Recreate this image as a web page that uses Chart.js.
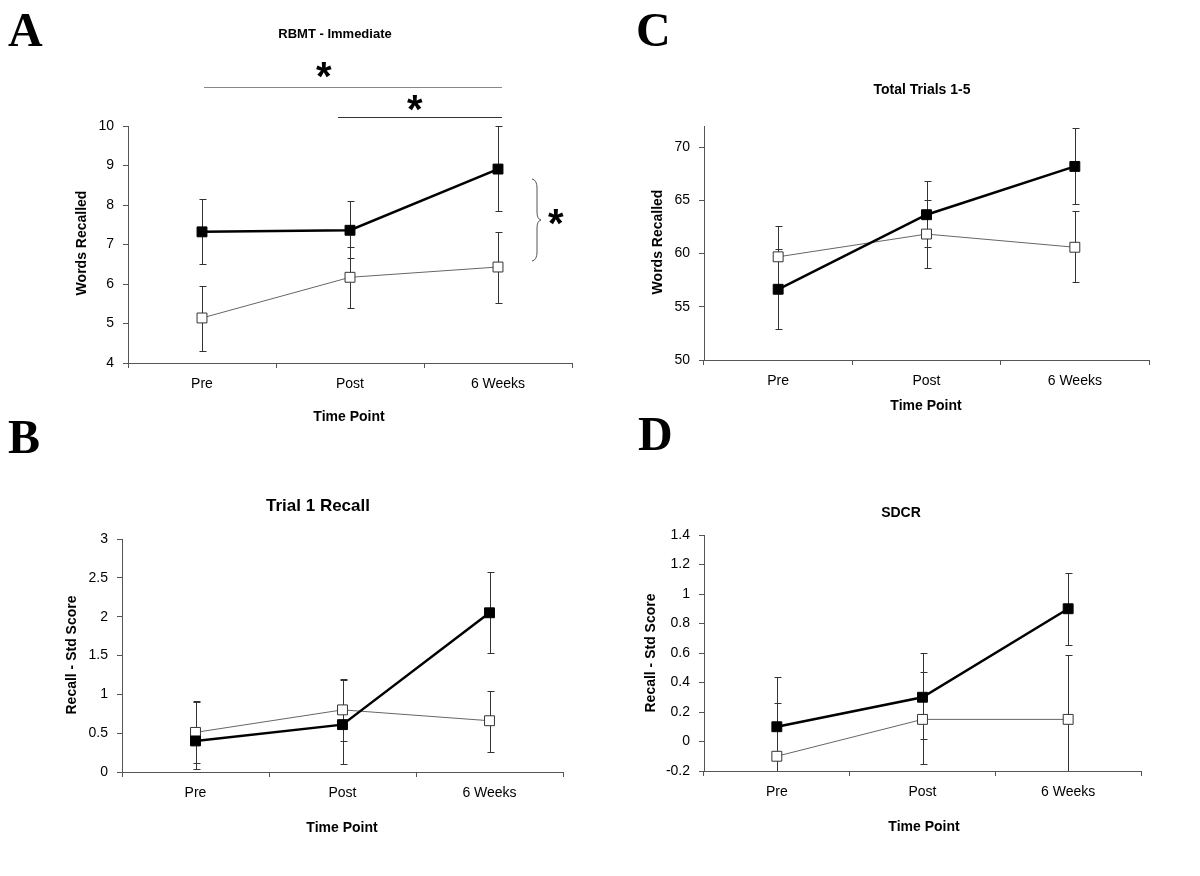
<!DOCTYPE html>
<html>
<head>
<script src="https://cdn.jsdelivr.net/npm/chart.js@4.4.1/dist/chart.umd.min.js"></script>
<style>
	body { margin: 0; background: #fff; }
	#page { position: relative; width: 1200px; height: 876px; overflow: hidden; }
	.panel { position: absolute; }
	.letter {
		position: absolute;
		font-family: 'Liberation Serif', 'Times New Roman', serif;
		font-weight: bold;
		font-size: 48px;
		line-height: 48px;
		color: #000;
	}
</style>
</head>
<body>
<div id="page">
	<canvas id="chartA" class="panel" width="600" height="438" style="left:0;top:0"></canvas>
	<canvas id="chartC" class="panel" width="600" height="438" style="left:600px;top:0"></canvas>
	<canvas id="chartB" class="panel" width="600" height="438" style="left:0;top:438px"></canvas>
	<canvas id="chartD" class="panel" width="600" height="438" style="left:600px;top:438px"></canvas>
	<div class="letter" style="left:8px;top:6px">A</div>
	<div class="letter" style="left:636px;top:6px">C</div>
	<div class="letter" style="left:8px;top:413px">B</div>
	<div class="letter" style="left:638px;top:410px">D</div>
</div>
<script>
var timePoints = ['Pre', 'Post', '6 Weeks'];

// A: RBMT - Immediate (words recalled)
var rbmtFilled = [7.32, 7.36, 8.91];
var rbmtFilledLow = [6.50, 6.66, 7.84];
var rbmtFilledHigh = [8.16, 8.09, 10.0];
var rbmtOpen = [5.14, 6.17, 6.43];
var rbmtOpenLow = [4.31, 5.40, 5.53];
var rbmtOpenHigh = [5.95, 6.94, 7.31];
var rbmtAxis = [4, 10, 1];          // min, max, step

// C: Total Trials 1-5 (words recalled)
var totalFilled = [56.65, 63.66, 68.2];
var totalFilledLow = [52.9, 60.6, 64.7];
var totalFilledHigh = [60.4, 66.8, 71.8];
var totalOpen = [59.7, 61.84, 60.6];
var totalOpenLow = [56.8, 58.66, 57.34];
var totalOpenHigh = [62.6, 65.0, 63.97];
var totalAxis = [50, 72, 5];

// B: Trial 1 Recall (std score)
var trialFilled = [0.40, 0.61, 2.05];
var trialFilledLow = [0.04, 0.10, 1.53];
var trialFilledHigh = [0.90, 1.18, 2.58];
var trialOpen = [0.51, 0.80, 0.66];
var trialOpenLow = [0.12, 0.40, 0.26];
var trialOpenHigh = [0.91, 1.20, 1.04];
var trialAxis = [0, 3, 0.5];

// D: SDCR (std score)
var sdcrFilled = [0.10, 0.30, 0.90];
var sdcrFilledLow = [-0.235, 0.02, 0.652];
var sdcrFilledHigh = [0.436, 0.60, 1.145];
var sdcrOpen = [-0.10, 0.15, 0.15];
var sdcrOpenLow = [-0.46, -0.155, -0.28];
var sdcrOpenHigh = [0.26, 0.47, 0.584];
var sdcrAxis = [-0.2, 1.4, 0.2];

var FONT = "'Liberation Sans', Arial, sans-serif";
var AXIS_COLOR = '#555';

// error bars go under the markers; a bar running past the axis is cut without cap
var errorBars = {
	id: 'errorBars',
	beforeDatasetsDraw: function(chart) {
		var ctx = chart.ctx, ys = chart.scales.y, area = chart.chartArea;
		ctx.save();
		ctx.strokeStyle = '#333';
		ctx.lineWidth = 1;
		chart.data.datasets.forEach(function(ds, i) {
			chart.getDatasetMeta(i).data.forEach(function(pt, j) {
				var x = Math.round(pt.x) + 0.5;
				var top = Math.round(ys.getPixelForValue(ds.errHigh[j])) + 0.5;
				var bot = Math.round(ys.getPixelForValue(ds.errLow[j])) + 0.5;
				var cut = bot > area.bottom;
				if (cut) bot = area.bottom;
				ctx.beginPath();
				ctx.moveTo(x, top); ctx.lineTo(x, bot);
				ctx.moveTo(x - 3, top); ctx.lineTo(x + 4, top);
				if (!cut) { ctx.moveTo(x - 3, bot); ctx.lineTo(x + 4, bot); }
				ctx.stroke();
			});
		});
		ctx.restore();
	}
};

function centredText(ctx, str, cx, cy) {
	var m = ctx.measureText(str);
	var x = cx - (m.actualBoundingBoxRight - m.actualBoundingBoxLeft) / 2;
	var y = cy - (m.actualBoundingBoxDescent - m.actualBoundingBoxAscent) / 2;
	ctx.fillText(str, x, y);
}

// plain tick numbers: 3, 2.5, 0, -0.2 (no trailing zeros, no "-0")
function tickText(v) {
	return String(Math.round(v * 1000) / 1000 + 0);
}

function labels(p) {
	return {
		id: 'labels',
		afterDraw: function(chart) {
			var ctx = chart.ctx;
			ctx.save();
			ctx.fillStyle = '#000';
			ctx.textAlign = 'center';
			ctx.textBaseline = 'middle';
			ctx.font = 'bold ' + p.titleSize + 'px ' + FONT;
			ctx.fillText(p.title, p.titlePos[0], p.titlePos[1]);
			ctx.font = 'bold 14px ' + FONT;
			ctx.fillText('Time Point', p.xTitlePos[0], p.xTitlePos[1]);
			ctx.save();
			ctx.translate(p.yTitlePos[0], p.yTitlePos[1]);
			ctx.rotate(-Math.PI / 2);
			ctx.fillText(p.yTitle, 0, 0);
			ctx.restore();
			if (p.extra) p.extra(ctx, chart);
			ctx.restore();
		}
	};
}

function makePanel(id, p) {
	var canvas = document.getElementById(id);
	var W = canvas.width, H = canvas.height;
	var yW = 60, xH = 40;
	var area = p.area; // left, right, top, bottom
	new Chart(canvas, {
		type: 'line',
		data: {
			labels: timePoints,
			datasets: [
				{
					data: p.filled, errLow: p.filledLow, errHigh: p.filledHigh,
					borderColor: '#000', borderWidth: 2.5,
					pointStyle: 'rect', pointRadius: 7,
					pointBackgroundColor: '#000', pointBorderColor: '#000', pointBorderWidth: 1,
					tension: 0, clip: false
				},
				{
					data: p.open, errLow: p.openLow, errHigh: p.openHigh,
					borderColor: '#666', borderWidth: 1,
					pointStyle: 'rect', pointRadius: 7,
					pointBackgroundColor: '#fff', pointBorderColor: '#333', pointBorderWidth: 1,
					tension: 0, clip: false
				}
			]
		},
		options: {
			responsive: false,
			animation: false,
			events: [],
			layout: { padding: { left: area[0] - yW, right: W - area[1], top: area[2], bottom: H - area[3] - xH } },
			plugins: { legend: { display: false }, tooltip: { enabled: false } },
			scales: {
				x: {
					offset: true,
					grid: { offset: true, drawOnChartArea: false, tickLength: 5, color: AXIS_COLOR },
					border: { color: AXIS_COLOR },
					ticks: { color: '#000', font: { family: FONT, size: 14 }, padding: 8 },
					afterFit: function(s) { s.height = xH; }
				},
				y: {
					min: p.axis[0], max: p.axis[1],
					grid: { drawOnChartArea: false, tickLength: 5, color: AXIS_COLOR },
					border: { color: AXIS_COLOR },
					ticks: {
						stepSize: p.axis[2], includeBounds: false, color: '#000',
						font: { family: FONT, size: 14 }, padding: 9,
						callback: tickText
					},
					afterFit: function(s) { s.width = yW; }
				}
			}
		},
		plugins: [errorBars, labels(p)]
	});
}

makePanel('chartA', {
	area: [128, 572, 126, 363], axis: rbmtAxis,
	filled: rbmtFilled, filledLow: rbmtFilledLow, filledHigh: rbmtFilledHigh,
	open: rbmtOpen, openLow: rbmtOpenLow, openHigh: rbmtOpenHigh,
	title: 'RBMT - Immediate', titleSize: 13, titlePos: [335, 34],
	yTitle: 'Words Recalled', yTitlePos: [82, 243], xTitlePos: [349, 417],
	extra: function(ctx, chart) {
		// significance marks
		ctx.lineWidth = 1;
		ctx.strokeStyle = '#888';
		ctx.beginPath(); ctx.moveTo(204, 87.5); ctx.lineTo(502, 87.5); ctx.stroke();
		ctx.strokeStyle = '#333';
		ctx.beginPath(); ctx.moveTo(338, 117.5); ctx.lineTo(502, 117.5); ctx.stroke();
		ctx.strokeStyle = '#555';
		ctx.beginPath();
		ctx.moveTo(532, 179);
		ctx.quadraticCurveTo(537, 180, 537, 188);
		ctx.lineTo(537, 212);
		ctx.quadraticCurveTo(537, 219, 541, 220);
		ctx.quadraticCurveTo(537, 221, 537, 228);
		ctx.lineTo(537, 252);
		ctx.quadraticCurveTo(537, 260, 532, 261);
		ctx.stroke();
		ctx.textAlign = 'left';
		ctx.textBaseline = 'alphabetic';
		ctx.font = 'bold 40px ' + FONT;
		centredText(ctx, '*', 324, 70);
		centredText(ctx, '*', 415, 103);
		centredText(ctx, '*', 556, 217);
	}
});

makePanel('chartC', {
	area: [104, 549, 126, 360], axis: totalAxis,
	filled: totalFilled, filledLow: totalFilledLow, filledHigh: totalFilledHigh,
	open: totalOpen, openLow: totalOpenLow, openHigh: totalOpenHigh,
	title: 'Total Trials 1-5', titleSize: 14, titlePos: [322, 90],
	yTitle: 'Words Recalled', yTitlePos: [58, 242], xTitlePos: [326, 406]
});

makePanel('chartB', {
	area: [122, 563, 101, 334], axis: trialAxis,
	filled: trialFilled, filledLow: trialFilledLow, filledHigh: trialFilledHigh,
	open: trialOpen, openLow: trialOpenLow, openHigh: trialOpenHigh,
	title: 'Trial 1 Recall', titleSize: 17, titlePos: [318, 68],
	yTitle: 'Recall - Std Score', yTitlePos: [72, 217], xTitlePos: [342, 390]
});

makePanel('chartD', {
	area: [104, 541, 97, 333], axis: sdcrAxis,
	filled: sdcrFilled, filledLow: sdcrFilledLow, filledHigh: sdcrFilledHigh,
	open: sdcrOpen, openLow: sdcrOpenLow, openHigh: sdcrOpenHigh,
	title: 'SDCR', titleSize: 14, titlePos: [301, 75],
	yTitle: 'Recall - Std Score', yTitlePos: [51, 215], xTitlePos: [324, 389]
});
</script>
</body>
</html>
